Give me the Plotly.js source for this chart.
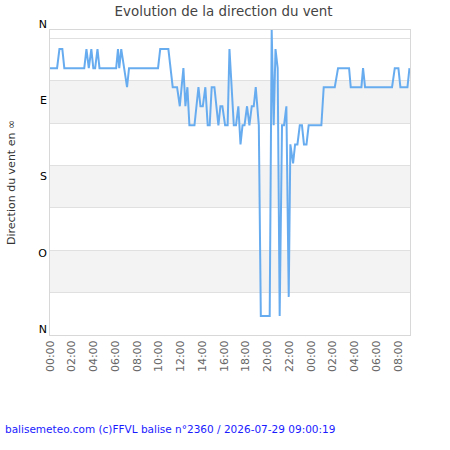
<!DOCTYPE html>
<html>
<head>
<meta charset="utf-8">
<script src="https://cdn.plot.ly/plotly-3.0.1.min.js"></script>
<style>html,body{margin:0;padding:0;background:#fff;}#chart{width:450px;height:450px;}</style>
</head>
<body>
<div id="chart"></div>
<script>
const times = [
  '2026-07-28 00:00','2026-07-28 00:39','2026-07-28 00:52','2026-07-28 01:08','2026-07-28 01:19',
  '2026-07-28 03:09','2026-07-28 03:21','2026-07-28 03:34','2026-07-28 03:48','2026-07-28 03:59',
  '2026-07-28 04:09','2026-07-28 04:22','2026-07-28 04:33','2026-07-28 06:05','2026-07-28 06:15',
  '2026-07-28 06:22','2026-07-28 06:33','2026-07-28 06:48','2026-07-28 07:05','2026-07-28 07:16',
  '2026-07-28 09:56','2026-07-28 10:08','2026-07-28 10:53','2026-07-28 11:17','2026-07-28 11:41',
  '2026-07-28 11:56','2026-07-28 12:16','2026-07-28 12:27','2026-07-28 12:38','2026-07-28 12:49',
  '2026-07-28 13:17','2026-07-28 13:39','2026-07-28 13:50','2026-07-28 14:03','2026-07-28 14:17',
  '2026-07-28 14:30','2026-07-28 14:41','2026-07-28 14:52','2026-07-28 15:07','2026-07-28 15:29',
  '2026-07-28 15:40','2026-07-28 15:51','2026-07-28 16:06','2026-07-28 16:20','2026-07-28 16:30',
  '2026-07-28 16:54','2026-07-28 17:06','2026-07-28 17:19','2026-07-28 17:31','2026-07-28 17:42',
  '2026-07-28 17:53','2026-07-28 18:07','2026-07-28 18:20','2026-07-28 18:33','2026-07-28 18:44',
  '2026-07-28 18:55','2026-07-28 19:12','2026-07-28 19:23','2026-07-28 20:12','2026-07-28 20:23',
  '2026-07-28 20:34','2026-07-28 20:44','2026-07-28 20:56','2026-07-28 21:07','2026-07-28 21:20',
  '2026-07-28 21:31','2026-07-28 21:44','2026-07-28 21:57','2026-07-28 22:06','2026-07-28 22:21',
  '2026-07-28 22:32','2026-07-28 22:45','2026-07-28 22:58','2026-07-28 23:10','2026-07-28 23:21',
  '2026-07-28 23:35','2026-07-28 23:47','2026-07-29 00:57','2026-07-29 01:10','2026-07-29 02:11',
  '2026-07-29 02:29','2026-07-29 03:30','2026-07-29 03:39','2026-07-29 04:38','2026-07-29 04:47',
  '2026-07-29 04:58','2026-07-29 07:27','2026-07-29 07:42','2026-07-29 08:02','2026-07-29 08:13',
  '2026-07-29 08:52','2026-07-29 09:03'
];
const directions = [
  315,315,337.5,337.5,315,
  315,337.5,315,337.5,315,
  315,337.5,315,315,337.5,
  315,337.5,315,292.5,315,
  315,337.5,337.5,292.5,292.5,
  270,315,270,292.5,247.5,
  247.5,292.5,270,270,292.5,
  247.5,247.5,292.5,292.5,247.5,
  270,270,247.5,247.5,337.5,
  247.5,247.5,270,225,247.5,
  247.5,270,247.5,270,270,
  292.5,247.5,22.5,22.5,360,
  247.5,337.5,315,22.5,247.5,
  247.5,270,45,225,202.5,
  225,225,247.5,247.5,225,
  225,247.5,247.5,292.5,292.5,
  315,315,292.5,292.5,315,
  292.5,292.5,315,315,292.5,
  292.5,315
];
const dirTickVals = [0, 90, 180, 270, 360];
const dirTickText = ['N', 'O', 'S', 'E', 'N'];
const gridVals = [0, 50, 100, 150, 200, 250, 300, 350];
const bands = [[50, 100], [150, 200], [250, 300]];
const xStart = '2026-07-28 00:00';
const xEnd = '2026-07-29 09:06';
const chartTitle = 'Evolution de la direction du vent';
const yTitle = 'Direction du vent en ∞';
const footer = 'balisemeteo.com (c)FFVL balise n°2360 / 2026-07-29 09:00:19';

const font = 'DejaVu Sans, Verdana, sans-serif';

const trace = {
  x: times, y: directions, type: 'scatter', mode: 'lines',
  line: {color: '#68acf0', width: 2},
  hoverinfo: 'skip', showlegend: false
};

const shapes = bands.map(b => ({
  type: 'rect', xref: 'paper', yref: 'y', x0: 0, x1: 1, y0: b[0], y1: b[1],
  fillcolor: '#f3f3f3', line: {width: 0}, layer: 'below'
}));

const layout = {
  width: 450, height: 450,
  margin: {l: 50, r: 40, t: 30, b: 115, pad: 0},
  paper_bgcolor: '#ffffff', plot_bgcolor: '#ffffff',
  font: {family: font, size: 11, color: '#333'},
  title: {text: chartTitle, x: 223.6 / 450, xref: 'container', xanchor: 'center', y: 1 - 11/450, yref: 'container', yanchor: 'middle',
          font: {family: font, size: 13.4, color: '#444'}},
  xaxis: {
    type: 'date', range: [xStart, xEnd], tickformat: '%H:%M', dtick: 7200000, tick0: xStart,
    tickangle: -90, showgrid: false, zeroline: false, showline: true, linecolor: '#d8d8d8', linewidth: 1, mirror: true,
    ticks: '', tickfont: {family: font, size: 11, color: '#666'}, fixedrange: true
  },
  yaxis: {
    range: [0, 360], tickvals: gridVals, showticklabels: false, showgrid: true, gridcolor: '#e0e0e0', gridwidth: 1,
    zeroline: false, showline: true, linecolor: '#d8d8d8', linewidth: 1, mirror: true, ticks: '', fixedrange: true
  },
  yaxis2: {
    overlaying: 'y', side: 'left', range: [0, 360], tickvals: dirTickVals, ticktext: dirTickText,
    showgrid: false, zeroline: false, showline: false, ticks: '', ticklabelshift: -6, ticklabelstandoff: 2,
    tickfont: {family: font, size: 11, color: '#000'},
    title: {text: yTitle, standoff: 20, font: {family: font, size: 11, color: '#333'}}, fixedrange: true
  },
  shapes: shapes,
  annotations: [{
    text: footer, xref: 'paper', yref: 'paper', x: (3 - 50) / 360, y: (335 - 429) / 305,
    xanchor: 'left', yanchor: 'middle', showarrow: false,
    font: {family: font, size: 10.5, color: '#1a1aff'}
  }]
};

const data = [trace, Object.assign({}, trace, {yaxis: 'y2', line: {color: 'rgba(0,0,0,0)', width: 0}})];

Plotly.newPlot('chart', data, layout, {displayModeBar: false, staticPlot: true});
</script>
</body>
</html>
